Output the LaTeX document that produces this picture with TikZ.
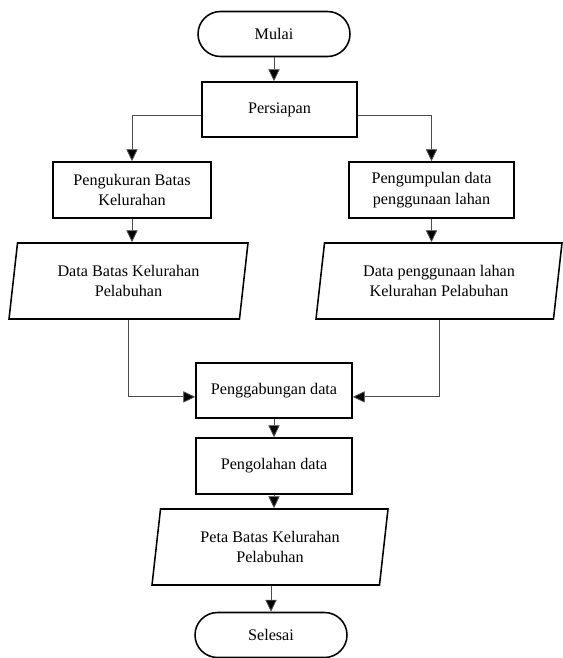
\documentclass[tikz,border=0pt]{standalone}
\usepackage{fontspec}
\setmainfont{Liberation Serif}
\usetikzlibrary{arrows.meta,shapes.geometric,shapes.misc}
\tikzset{
	proses/.style={draw=black, line width=1.1pt, rectangle, align=center, inner sep=0pt},
	terminal/.style={draw=black, line width=1.1pt, rounded rectangle, align=center, inner sep=0pt, minimum width=152*0.025cm, minimum height=45*0.025cm},
	datanya/.style={draw=black, line width=1.1pt, trapezium, trapezium left angle=75, trapezium right angle=105, trapezium stretches body, align=center, inner sep=0pt, minimum height=76*0.025cm},
	alur/.style={draw=black!70, line width=0.6pt, -{Triangle[length=8.5pt,width=8pt,fill=black]}},
	garis/.style={draw=black!70, line width=0.6pt}
}

\begin{document}
\begin{tikzpicture}[x=0.025cm, y=-0.025cm, font=\fontsize{11.5}{14.5}\selectfont]
		%%%%% START %%%%%
		\useasboundingbox (0, 0) rectangle (562, 658);
		
		\node[terminal] (mulai) at (274, 34) {Mulai};
		\node[proses, minimum width=155*0.025cm, minimum height=55*0.025cm] (persiapan) at (279.5, 109.5) {Persiapan};
		
		\node[proses, minimum width=158*0.025cm, minimum height=56*0.025cm] (ukur) at (132, 190) {Pengukuran Batas\\Kelurahan};
		\node[proses, minimum width=165*0.025cm, minimum height=56*0.025cm] (kumpul) at (431.5, 190) {Pengumpulan data\\penggunaan lahan};
		
		\node[datanya, minimum width=239*0.025cm] (databatas) at (128.5, 281) {Data Batas Kelurahan\\Pelabuhan};
		\node[datanya, minimum width=246*0.025cm] (datalahan) at (439, 281) {Data penggunaan lahan\\Kelurahan Pelabuhan};
		
		\node[proses, minimum width=156*0.025cm, minimum height=55*0.025cm] (gabung) at (274, 390.5) {Penggabungan data};
		\node[proses, minimum width=156*0.025cm, minimum height=56*0.025cm] (olah) at (274, 466) {Pengolahan data};
		
		\node[datanya, minimum width=236*0.025cm] (peta) at (270, 547) {Peta Batas Kelurahan\\Pelabuhan};
		\node[terminal] (selesai) at (271, 635) {Selesai};
		
		% panah
		\draw[alur] (mulai.south) -- (mulai.south |- persiapan.north);
		\draw[alur] ([yshift=-0.14cm]persiapan.west) -| (ukur.north);
		\draw[alur] ([yshift=-0.14cm]persiapan.east) -| (kumpul.north);
		\draw[alur] (ukur.south) -- (ukur.south |- databatas.north);
		\draw[alur] (kumpul.south) -- (kumpul.south |- datalahan.north);
		\draw[alur] (databatas.south) |- ([yshift=-0.16cm]gabung.west);
		\draw[alur] (datalahan.south) |- ([yshift=-0.16cm]gabung.east);
		\draw[alur] (gabung.south) -- (olah.north);
		\draw[alur] (olah.south) -- (olah.south |- peta.north);
		\draw[alur] (selesai.north |- peta.south) -- (selesai.north);
		
		%%%%% END %%%%%
	\end{tikzpicture}
\end{document}
